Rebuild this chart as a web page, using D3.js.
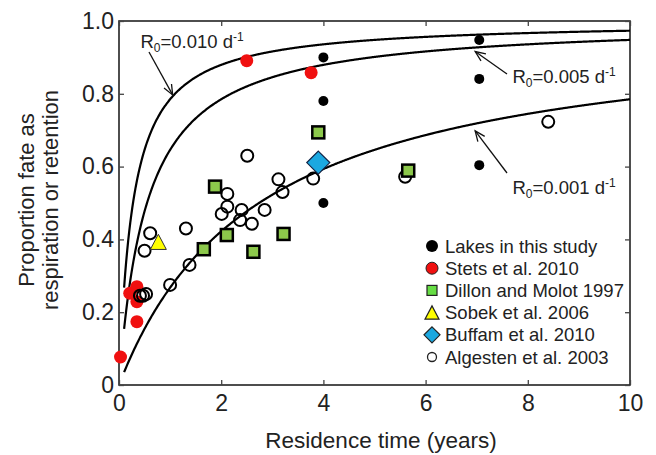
<!DOCTYPE html>
<html>
<head>
<meta charset="utf-8">
<script src="https://cdn.jsdelivr.net/npm/d3@7"></script>
<style>
  body { margin: 0; background: #fff; }
  svg { font-family: Arial, "Liberation Sans", sans-serif; }
</style>
</head>
<body>
<svg width="656" height="455"></svg>
<script>
// data: [residence time (yr), proportion]
const lakes = [[4.0, 0.90], [4.0, 0.78], [4.0, 0.50], [7.05, 0.948], [7.05, 0.841], [7.05, 0.604]]
const stets = [[0.03, 0.077], [0.21, 0.252], [0.35, 0.27], [0.35, 0.229], [0.35, 0.174], [2.5, 0.891], [3.76, 0.858]]
const dillon = [[1.88, 0.545], [1.66, 0.373], [2.11, 0.412], [2.63, 0.366], [3.22, 0.415], [3.9, 0.694], [5.66, 0.589]]
const sobek = [[0.77, 0.39]]
const buffam = [[3.9, 0.611]]
const algesten = [[0.41, 0.245], [0.47, 0.245], [0.53, 0.25], [0.5, 0.369], [0.61, 0.417], [1.0, 0.275],
  [1.31, 0.43], [1.38, 0.33], [2.01, 0.47], [2.12, 0.525], [2.12, 0.49], [2.4, 0.481], [2.37, 0.453],
  [2.6, 0.443], [2.85, 0.481], [2.51, 0.63], [3.12, 0.565], [3.2, 0.53], [3.8, 0.567], [5.6, 0.572], [8.4, 0.723]]

// model curves: 1 - 1/(1 + R0 * tau), R0 in 1/d, tau in years
const r0Values = [0.010, 0.005, 0.001]
const r0Labels = ['0.010', '0.005', '0.001']
// label position and arrow tip, in data units
const labelPos = [[0.42, 0.925], [7.7, 0.83], [7.7, 0.525]]
const arrowTip = [[1.05, 0.797], [6.97, 0.916], [6.97, 0.698]]

const xTicks = [0, 2, 4, 6, 8, 10]
const yTicks = [0, 0.2, 0.4, 0.6, 0.8, 1.0]

const legendNames = ['Lakes in this study', 'Stets et al. 2010', 'Dillon and Molot 1997',
  'Sobek et al. 2006', 'Buffam et al. 2010', 'Algesten et al. 2003']

const svg = d3.select('svg')
const x = d3.scaleLinear().domain([0, 10]).range([119, 630])
const y = d3.scaleLinear().domain([0, 1]).range([385, 21])

// frame
svg.append('rect')
  .attr('x', x(0)).attr('y', y(1))
  .attr('width', x(10) - x(0)).attr('height', y(0) - y(1))
  .attr('fill', 'none').attr('stroke', '#222').attr('stroke-width', 1.6)

// inward ticks on all four sides
const tl = 5
svg.append('g').attr('transform', `translate(0,${y(0)})`)
  .call(d3.axisBottom(x).tickValues(xTicks).tickSizeInner(-tl).tickSizeOuter(0).tickFormat(d => d).tickPadding(10))
svg.append('g').attr('transform', `translate(0,${y(1)})`)
  .call(d3.axisTop(x).tickValues(xTicks).tickSizeInner(-tl).tickSizeOuter(0).tickFormat(''))
svg.append('g').attr('transform', `translate(${x(0)},0)`)
  .call(d3.axisLeft(y).tickValues(yTicks).tickSizeInner(-tl).tickSizeOuter(0)
    .tickFormat(d => d === 0 ? '0' : d3.format('.1f')(d)).tickPadding(5))
svg.append('g').attr('transform', `translate(${x(10)},0)`)
  .call(d3.axisRight(y).tickValues(yTicks).tickSizeInner(-tl).tickSizeOuter(0).tickFormat(''))
svg.selectAll('.domain').remove()
svg.selectAll('.tick line').attr('stroke', '#444').attr('stroke-width', 1.3)
svg.selectAll('.tick text').attr('font-size', 23).attr('fill', '#222').attr('font-family', 'Arial, "Liberation Sans", sans-serif')

// axis titles
svg.append('text').attr('x', 381).attr('y', 448).attr('text-anchor', 'middle')
  .attr('font-size', 22.5).attr('fill', '#222').text('Residence time (years)')
const yt = svg.append('text').attr('transform', 'translate(0,200) rotate(-90)')
  .attr('text-anchor', 'middle').attr('font-size', 22).attr('fill', '#222')
yt.append('tspan').attr('x', 0).attr('y', 34).text('Proportion fate as')
yt.append('tspan').attr('x', 0).attr('y', 58).text('respiration or retention')

// model curves
const tSteps = d3.range(0.1, 10.001, 0.02)
const line = d3.line().x(d => x(d[0])).y(d => y(d[1])).curve(d3.curveMonotoneX)
r0Values.forEach(r0 => {
  const pts = tSteps.map(t => [t, 1 - 1 / (1 + r0 * 365 * t)])
  svg.append('path').attr('d', line(pts))
    .attr('fill', 'none').attr('stroke', '#000').attr('stroke-width', 2.2)
})

// annotations
r0Values.forEach((r0, i) => {
  const t = svg.append('text').attr('x', x(labelPos[i][0])).attr('y', y(labelPos[i][1]))
    .attr('font-size', 18.5).attr('fill', '#222')
  t.append('tspan').text('R')
  t.append('tspan').attr('font-size', 12).attr('dy', 4).text('0')
  t.append('tspan').attr('dy', -4).text('=' + r0Labels[i] + ' d')
  t.append('tspan').attr('font-size', 12).attr('dy', -7).text('-1')
})
const arrowStart = [[149, 52], [507, 74], [507, 173]]
arrowStart.forEach((s, i) => {
  const tx = x(arrowTip[i][0]), ty = y(arrowTip[i][1])
  const ang = Math.atan2(ty - s[1], tx - s[0])
  const g = svg.append('g').attr('stroke', '#111').attr('stroke-width', 1.3).attr('fill', 'none')
  g.append('line').attr('x1', s[0]).attr('y1', s[1]).attr('x2', tx).attr('y2', ty)
  const h = 11, w = 0.4
  g.append('path').attr('d', `M${tx - h * Math.cos(ang - w)},${ty - h * Math.sin(ang - w)}L${tx},${ty}L${tx - h * Math.cos(ang + w)},${ty - h * Math.sin(ang + w)}`)
})

// markers
const triPath = (cx, cy, s) => `M${cx},${cy - s * 0.55}L${cx + s / 2},${cy + s * 0.4}L${cx - s / 2},${cy + s * 0.4}Z`
const diaPath = (cx, cy, s) => `M${cx},${cy - s}L${cx + s},${cy}L${cx},${cy + s}L${cx - s},${cy}Z`

svg.append('g').selectAll('circle').data(stets).enter().append('circle')
  .attr('cx', d => x(d[0])).attr('cy', d => y(d[1])).attr('r', 6.5).attr('fill', '#f01010')
svg.append('g').selectAll('circle').data(algesten).enter().append('circle')
  .attr('cx', d => x(d[0])).attr('cy', d => y(d[1])).attr('r', 6)
  .attr('fill', 'none').attr('stroke', '#000').attr('stroke-width', 2)
svg.append('g').selectAll('rect').data(dillon).enter().append('rect')
  .attr('x', d => x(d[0]) - 6).attr('y', d => y(d[1]) - 6).attr('width', 12).attr('height', 12)
  .attr('fill', '#8cc84b').attr('stroke', '#000').attr('stroke-width', 2.5)
svg.append('g').selectAll('path').data(sobek).enter().append('path')
  .attr('d', d => triPath(x(d[0]), y(d[1]), 16))
  .attr('fill', '#ffff00').attr('stroke', '#333').attr('stroke-width', 1)
svg.append('g').selectAll('path').data(buffam).enter().append('path')
  .attr('d', d => diaPath(x(d[0]), y(d[1]), 11.5))
  .attr('fill', '#1ba8e0').attr('stroke', '#124').attr('stroke-width', 1.2)
svg.append('g').selectAll('circle').data(lakes).enter().append('circle')
  .attr('cx', d => x(d[0])).attr('cy', d => y(d[1])).attr('r', 5).attr('fill', '#000')

// legend
const lg = svg.append('g')
const lx = 432, ly0 = 246, ldy = 22.2
legendNames.forEach((name, i) => {
  const cy = ly0 + i * ldy
  if (i === 0) lg.append('circle').attr('cx', lx).attr('cy', cy).attr('r', 6).attr('fill', '#000')
  if (i === 1) lg.append('circle').attr('cx', lx).attr('cy', cy).attr('r', 6).attr('fill', '#f01010').attr('stroke', '#222').attr('stroke-width', 1)
  if (i === 2) lg.append('rect').attr('x', lx - 5).attr('y', cy - 5).attr('width', 10).attr('height', 10)
    .attr('fill', '#66dd44').attr('stroke', '#222').attr('stroke-width', 1.2)
  if (i === 3) lg.append('path').attr('d', triPath(lx, cy + 1, 14)).attr('fill', '#ffff00').attr('stroke', '#222').attr('stroke-width', 1.2)
  if (i === 4) lg.append('path').attr('d', diaPath(lx, cy, 8)).attr('fill', '#1ba8e0').attr('stroke', '#222').attr('stroke-width', 1.2)
  if (i === 5) lg.append('circle').attr('cx', lx).attr('cy', cy).attr('r', 4.5).attr('fill', 'none').attr('stroke', '#222').attr('stroke-width', 1.3)
  lg.append('text').attr('x', 445).attr('y', cy + 6.5).attr('font-size', 18.5).attr('fill', '#222').text(name)
})
</script>
</body>
</html>
